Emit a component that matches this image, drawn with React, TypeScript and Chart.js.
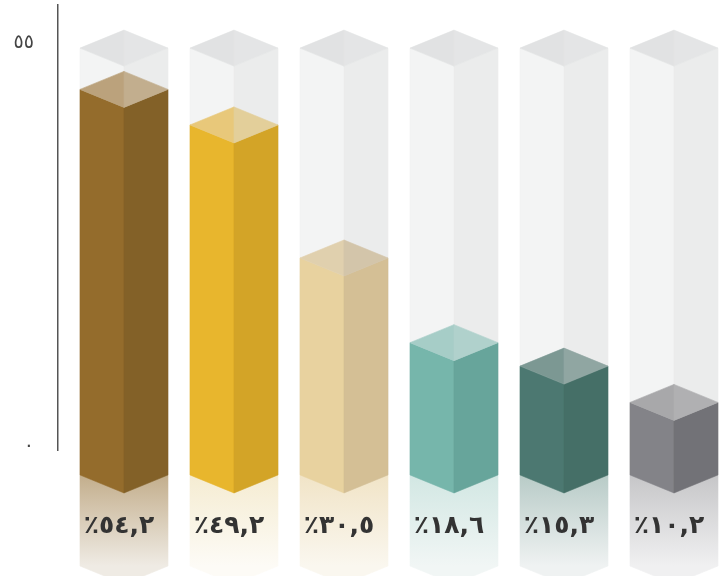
import React, { useEffect, useRef } from 'react';
import { Chart, registerables } from 'chart.js';

Chart.register(...registerables);

// ---- data ----
const values = [54.2, 49.2, 30.5, 18.6, 15.3, 10.2];
const valueLabels = ['٪٥٤,٢', '٪٤٩,٢', '٪٣٠,٥', '٪١٨,٦', '٪١٥,٣', '٪١٠,٢'];
const axisTickValues = [0, 55];
const containerValue = 60;

// ---- palette ----
const frontColors = ['#946C2C', '#E8B62D', '#E8D29F', '#76B6AB', '#4C7871', '#838388'];
const sideColors = ['#836128', '#D3A427', '#D4BF95', '#67A59B', '#456F67', '#727277'];
const topLeftColors = ['#BBA27C', '#E8C87A', '#E0D0AE', '#A6CDC7', '#7C9893', '#A8A8AA'];
const topRightColors = ['#C2AE8E', '#E3CF9A', '#D3C5AA', '#B0D1CC', '#90A6A2', '#B0B0B2'];
const reflectTop = ['#C3AE8C', '#F5ECD2', '#F1E4C7', '#D2E7E3', '#B8CBC7', '#C6C6C8'];
const reflectBottom = ['#EFEBE4', '#FDFBF6', '#FAF7EF', '#F1F6F5', '#EFF2F2', '#F0F0F1'];

const toArabicDigits = (s: string) => s.replace(/[0-9]/g, (d) => '٠١٢٣٤٥٦٧٨٩'[Number(d)]);

function poly(ctx: CanvasRenderingContext2D, pts: number[][], fill: string | CanvasGradient) {
  ctx.beginPath();
  ctx.moveTo(pts[0][0], pts[0][1]);
  for (let k = 1; k < pts.length; k++) ctx.lineTo(pts[k][0], pts[k][1]);
  ctx.closePath();
  ctx.fillStyle = fill;
  ctx.fill();
  ctx.strokeStyle = fill as any;
  ctx.lineWidth = 0.6;
  ctx.stroke();
}

const prismPlugin = {
  id: 'prisms',
  afterDatasetsDraw(chart: any) {
    const ctx: CanvasRenderingContext2D = chart.ctx;
    const xs = chart.scales.x;
    const ys = chart.scales.yb;
    const hw = 44;
    const d = 18;
    const reflect = 91;
    ctx.save();
    values.forEach((v, i) => {
      const cx = xs.getPixelForValue(i);
      const base = ys.getPixelForValue(0);
      const top = ys.getPixelForValue(v);
      const gTop = ys.getPixelForValue(containerValue);
      const L = cx - hw;
      const R = cx + hw;

      // glass container
      poly(ctx, [[L, gTop], [cx, gTop + d], [cx, base + d], [L, base]], '#F3F4F4');
      poly(ctx, [[cx, gTop + d], [R, gTop], [R, base], [cx, base + d]], '#EBECEC');
      poly(ctx, [[L, gTop], [cx, gTop - d], [cx, gTop + d]], '#E1E2E3');
      poly(ctx, [[cx, gTop - d], [R, gTop], [cx, gTop + d]], '#E4E5E6');

      // reflection
      const rb = base + reflect;
      const gL = ctx.createLinearGradient(0, base, 0, rb);
      gL.addColorStop(0, reflectTop[i]);
      gL.addColorStop(1, reflectBottom[i]);
      const gR = ctx.createLinearGradient(0, base, 0, rb);
      gR.addColorStop(0, reflectTop[i]);
      gR.addColorStop(1, reflectBottom[i]);
      poly(ctx, [[L, base], [cx, base + d], [cx, rb + d], [L, rb]], gL);
      poly(ctx, [[cx, base + d], [R, base], [R, rb], [cx, rb + d]], gR);

      // bar
      poly(ctx, [[L, top], [cx, top + d], [cx, base + d], [L, base]], frontColors[i]);
      poly(ctx, [[cx, top + d], [R, top], [R, base], [cx, base + d]], sideColors[i]);
      poly(ctx, [[L, top], [cx, top - d], [cx, top + d]], topLeftColors[i]);
      poly(ctx, [[cx, top - d], [R, top], [cx, top + d]], topRightColors[i]);

      // label
      ctx.fillStyle = '#333333';
      ctx.font = 'bold 25px "DejaVu Sans"';
      ctx.textAlign = 'center';
      ctx.textBaseline = 'middle';
      (ctx as any).direction = 'ltr';
      ctx.fillText(valueLabels[i], cx - 5, base + 52);
    });
    ctx.restore();
  },
};

export default function App() {
  const canvasRef = useRef<HTMLCanvasElement | null>(null);

  useEffect(() => {
    document.body.style.margin = '0';
    const canvas = canvasRef.current;
    if (!canvas) return;
    const chart = new Chart(canvas, {
      type: 'scatter',
      data: {
        datasets: [
          {
            data: values.map((v, i) => ({ x: i, y: v })),
            pointRadius: 0,
            showLine: false,
            xAxisID: 'x',
            yAxisID: 'yb',
          },
        ],
      },
      options: {
        animation: false,
        responsive: false,
        devicePixelRatio: 1,
        layout: { padding: { top: 5, bottom: 126, left: 0, right: 0 } },
        plugins: { legend: { display: false }, tooltip: { enabled: false } },
        scales: {
          x: { type: 'linear', min: -0.6, max: 5.491, display: false },
          y: {
            type: 'linear',
            position: 'left',
            min: -0.546,
            max: 60.19,
            afterBuildTicks: (s: any) => {
              s.ticks = axisTickValues.map((v) => ({ value: v }));
            },
            afterFit: (s: any) => {
              s.width = 58;
              s.paddingTop = 0;
              s.paddingBottom = 0;
            },
            ticks: {
              callback: (v: any) => toArabicDigits(String(v)),
              font: { family: '"DejaVu Sans"', size: 19 },
              color: '#444444',
              padding: 24,
            },
            grid: { display: false, drawTicks: false },
            border: { display: true, color: '#555555', width: 1.5 },
          },
          yb: { type: 'linear', position: 'left', min: 3.51, max: 66.06, display: false },
        },
      } as any,
      plugins: [prismPlugin],
    });
    return () => chart.destroy();
  }, []);

  return <canvas ref={canvasRef} width={728} height={576} style={{ display: 'block' }} />;
}
